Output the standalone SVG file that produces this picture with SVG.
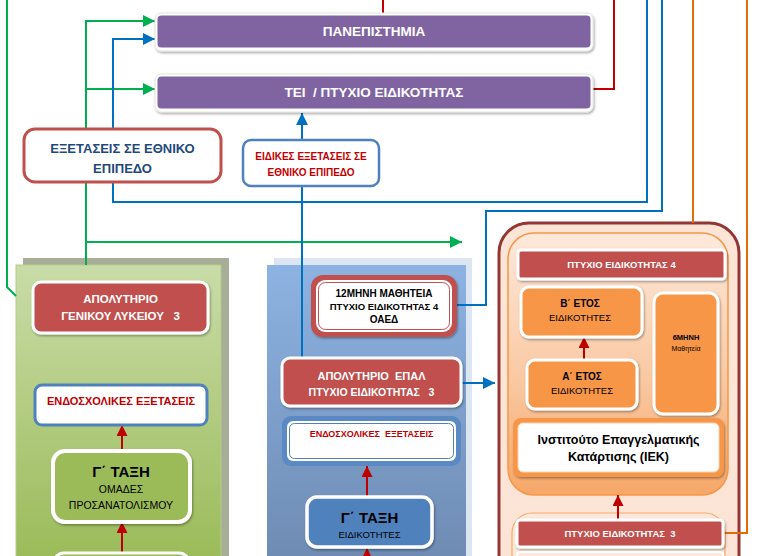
<svg xmlns="http://www.w3.org/2000/svg" width="759" height="556" viewBox="0 0 759 556">
<style>
text{font-family:"Liberation Sans",Arial,sans-serif;text-anchor:middle}
.b{font-weight:bold}
.w{fill:#fff}
.k{fill:#000}
.r{fill:#c00000}
.wb{stroke:#fff;stroke-width:3;filter:url(#sh)}
.red{fill:#c0504d}
.org{fill:#f79646}
.c{fill:none;stroke-width:2}
.cg{stroke:#00b050}
.cb{stroke:#0070c0}
.cr{stroke:#c00000}
.co{stroke:#e36c09}
</style>
<defs>
<filter id="sh" x="-10%" y="-10%" width="120%" height="130%"><feDropShadow dx="1" dy="1.5" stdDeviation="1" flood-color="#000" flood-opacity="0.35"/></filter>
<marker id="ag" markerUnits="userSpaceOnUse" viewBox="0 0 12 12" refX="12" refY="6" markerWidth="13" markerHeight="12" orient="auto"><path d="M0,0L12,6L0,12z" fill="#00b050"/></marker>
<marker id="ab" markerUnits="userSpaceOnUse" viewBox="0 0 12 12" refX="12" refY="6" markerWidth="13" markerHeight="12" orient="auto"><path d="M0,0L12,6L0,12z" fill="#0070c0"/></marker>
<marker id="ar" markerUnits="userSpaceOnUse" viewBox="0 0 12 12" refX="12" refY="6" markerWidth="12" markerHeight="11" orient="auto"><path d="M0,0L12,6L0,12z" fill="#c00000"/></marker>
<linearGradient id="gg" x1="0" y1="0" x2="0" y2="1"><stop offset="0" stop-color="#c9dca8"/><stop offset="1" stop-color="#9bbb59"/></linearGradient>
<linearGradient id="gb" x1="0" y1="0" x2="0" y2="1"><stop offset="0" stop-color="#8db3e2"/><stop offset="1" stop-color="#6e8bb3"/></linearGradient>
<linearGradient id="go" x1="0" y1="0" x2="0" y2="1"><stop offset="0" stop-color="#fde9dc"/><stop offset="0.55" stop-color="#f9c9a3"/><stop offset="1" stop-color="#f6a768"/></linearGradient>
</defs>
<rect width="759" height="556" fill="#fff"/>

<g id="panel-general">
<rect x="23" y="258" width="206" height="300" fill="#a7ad97"/>
<rect x="16" y="265" width="205" height="295" fill="url(#gg)" stroke="#b5cc88" stroke-width="1"/>
</g>
<g id="panel-epal">
<rect x="274" y="258" width="198" height="300" fill="#dce6f2"/>
<rect x="267" y="265" width="199" height="295" fill="url(#gb)"/>
</g>
<g id="panel-iek">
<rect x="499" y="223" width="240" height="370" rx="30" fill="#fce4d6" stroke="#943634" stroke-width="3"/>
<rect x="508" y="233" width="220" height="262" rx="26" fill="url(#go)" stroke="#f79646" stroke-width="1.5"/>
<rect x="512" y="513" width="213" height="70" rx="20" fill="#fde9dc" stroke="#f9a86a" stroke-width="1.2"/>
</g>

<g id="connectors">
<path class="c cg" d="M7,0V287L16,296"/>
<path class="c cg" d="M86,265V21H155" marker-end="url(#ag)"/>
<path class="c cg" d="M86,89H155" marker-end="url(#ag)"/>
<path class="c cg" d="M86,242H462" marker-end="url(#ag)"/>
<path class="c cb" d="M647,0V202H113V39H155" marker-end="url(#ab)"/>
<path class="c cb" d="M456,305H486V211H662V0"/>
<path class="c cb" d="M302,358V113" marker-end="url(#ab)"/>
<path class="c cb" d="M461,383H495" marker-end="url(#ab)"/>
<path class="c cr" d="M593,89H614V0"/>
<path class="c cr" d="M383,0V14"/>
<path class="c co" d="M693,0V223"/>
<path class="c co" d="M723,533H747V0"/>
<path class="c cr" d="M122,451V425" marker-end="url(#ar)"/>
<path class="c cr" d="M122,556V522" marker-end="url(#ar)"/>
<path class="c cr" d="M367,497V466" marker-end="url(#ar)"/>
<path class="c cr" d="M367,560V548" marker-end="url(#ar)"/>
<path class="c cr" d="M584,360V337" marker-end="url(#ar)"/>
<path class="c cr" d="M618,520V495" marker-end="url(#ar)"/>
</g>

<g id="node-univ">
<rect x="155" y="13" width="438" height="38" rx="6" fill="#fff" stroke="#e4e4e4" stroke-width="1" filter="url(#sh)"/>
<rect x="157.5" y="15.5" width="433" height="32" rx="4" fill="#8064a2"/>
<text x="374" y="36" class="b w" font-size="13.5">ΠΑΝΕΠΙΣΤΗΜΙΑ</text>
</g>
<g id="node-tei">
<rect x="155" y="74" width="438" height="38" rx="6" fill="#fff" stroke="#e4e4e4" stroke-width="1" filter="url(#sh)"/>
<rect x="157.5" y="76.5" width="433" height="32" rx="4" fill="#8064a2"/>
<text x="374" y="97" class="b w" font-size="13.5" xml:space="preserve">ΤΕΙ  / ΠΤΥΧΙΟ ΕΙΔΙΚΟΤΗΤΑΣ</text>
</g>
<g id="node-national-exams">
<rect x="24" y="129" width="197" height="53" rx="11" fill="#fff" stroke="#c0504d" stroke-width="3"/>
<text x="122.5" y="152.5" class="b" fill="#1f497d" font-size="13">ΕΞΕΤΑΣΕΙΣ ΣΕ ΕΘΝΙΚΟ</text>
<text x="122.5" y="172.5" class="b" fill="#1f497d" font-size="13">ΕΠΙΠΕΔΟ</text>
</g>
<g id="node-special-exams">
<rect x="243" y="140" width="136" height="46" rx="8" fill="#fff" stroke="#4f81bd" stroke-width="2.5"/>
<text x="311" y="160" class="b r" font-size="10">ΕΙΔΙΚΕΣ ΕΞΕΤΑΣΕΙΣ ΣΕ</text>
<text x="311" y="176" class="b r" font-size="10">ΕΘΝΙΚΟ ΕΠΙΠΕΔΟ</text>
</g>

<g id="node-apolytirio-gl">
<rect x="33" y="282" width="175" height="51" rx="8" class="red wb"/>
<text x="120.5" y="303" class="b w" font-size="11.5">ΑΠΟΛΥΤΗΡΙΟ</text>
<text x="120.5" y="320" class="b w" font-size="11.5" xml:space="preserve">ΓΕΝΙΚΟΥ ΛΥΚΕΙΟΥ   3</text>
</g>
<g id="node-endo-gl">
<rect x="35" y="385" width="172" height="40" rx="7" fill="#fff" stroke="#4f81bd" stroke-width="3"/>
<text x="121" y="405" class="b r" font-size="11">ΕΝΔΟΣΧΟΛΙΚΕΣ ΕΞΕΤΑΣΕΙΣ</text>
</g>
<g id="node-g-gl">
<rect x="53" y="451" width="137" height="71" rx="12" fill="#9bbb59" stroke="#fff" stroke-width="4" filter="url(#sh)"/>
<text x="121" y="477" class="b k" font-size="15">Γ΄ ΤΑΞΗ</text>
<text x="121" y="493" class="k" font-size="10.5">ΟΜΑΔΕΣ</text>
<text x="121" y="509" class="k" font-size="10.5">ΠΡΟΣΑΝΑΤΟΛΙΣΜΟΥ</text>
</g>
<g id="node-b-gl">
<rect x="54" y="553" width="135" height="40" rx="10" fill="#9bbb59" stroke="#fff" stroke-width="3"/>
</g>

<g id="node-mathiteia">
<rect x="311" y="275" width="146" height="62" rx="12" class="red" filter="url(#sh)"/>
<rect x="316" y="280" width="136" height="52" rx="9" fill="#fff"/>
<rect x="318.5" y="282.5" width="131" height="47" rx="7" fill="none" stroke="#c0504d" stroke-width="1"/>
<text x="384" y="297" class="b k" font-size="10">12ΜΗΝΗ ΜΑΘΗΤΕΙΑ</text>
<text x="384" y="310" class="b k" font-size="9.5">ΠΤΥΧΙΟ ΕΙΔΙΚΟΤΗΤΑΣ 4</text>
<text x="384" y="323" class="b k" font-size="10">ΟΑΕΔ</text>
</g>
<g id="node-apolytirio-epal">
<rect x="282" y="358" width="179" height="48" rx="8" class="red wb"/>
<text x="371.5" y="380" class="b w" font-size="11" xml:space="preserve">ΑΠΟΛΥΤΗΡΙΟ  ΕΠΑΛ</text>
<text x="371.5" y="396" class="b w" font-size="10.5" xml:space="preserve">ΠΤΥΧΙΟ ΕΙΔΙΚΟΤΗΤΑΣ   3</text>
</g>
<g id="node-endo-epal">
<rect x="282" y="416" width="179" height="50" rx="9" fill="#5a89c4"/>
<rect x="287" y="421" width="169" height="40" rx="6" fill="#fff"/>
<rect x="289.5" y="423.5" width="164" height="35" rx="5" fill="none" stroke="#4f81bd" stroke-width="1"/>
<text x="371.5" y="437" class="b r" font-size="9" xml:space="preserve">ΕΝΔΟΣΧΟΛΙΚΕΣ  ΕΞΕΤΑΣΕΙΣ</text>
</g>
<g id="node-g-epal">
<rect x="307" y="497" width="125" height="50" rx="10" fill="#4f81bd" stroke="#fff" stroke-width="3.5" filter="url(#sh)"/>
<text x="369.5" y="523" class="b k" font-size="15">Γ΄ ΤΑΞΗ</text>
<text x="369.5" y="538" class="k" font-size="9.5">ΕΙΔΙΚΟΤΗΤΕΣ</text>
</g>

<g id="node-ptyxio4">
<rect x="518" y="250" width="207" height="29" rx="3" class="red wb"/>
<text x="621.5" y="268" class="b w" font-size="9.5">ΠΤΥΧΙΟ ΕΙΔΙΚΟΤΗΤΑΣ 4</text>
</g>
<g id="node-b-etos">
<rect x="521" y="287" width="121" height="50" rx="8" class="org wb"/>
<text x="580" y="307" class="b k" font-size="10">Β΄ ΕΤΟΣ</text>
<text x="580" y="321" class="k" font-size="9.5">ΕΙΔΙΚΟΤΗΤΕΣ</text>
</g>
<g id="node-a-etos">
<rect x="527" y="360" width="110" height="49" rx="8" class="org wb"/>
<text x="582" y="380" class="b k" font-size="10">Α΄ ΕΤΟΣ</text>
<text x="582" y="394" class="k" font-size="9.5">ΕΙΔΙΚΟΤΗΤΕΣ</text>
</g>
<g id="node-6mini">
<rect x="654" y="293" width="64" height="121" rx="9" class="org wb"/>
<text x="686" y="340" class="b k" font-size="7.5">6ΜΗΝΗ</text>
<text x="686" y="351" class="k" font-size="7">Μαθητεία</text>
</g>
<g id="node-iek">
<rect x="513" y="418" width="211" height="59" rx="8" class="org" filter="url(#sh)"/>
<rect x="518" y="423" width="201" height="49" rx="5" fill="#fff" stroke="#fbd3b4" stroke-width="1"/>
<text x="618.5" y="444" class="b k" font-size="12.5">Ινστιτούτο Επαγγελματικής</text>
<text x="618.5" y="461" class="b k" font-size="12.5">Κατάρτισης (ΙΕΚ)</text>
</g>
<g id="node-ptyxio3">
<rect x="517" y="520" width="206" height="27" rx="3" class="red wb"/>
<text x="620" y="537" class="b w" font-size="9.5" xml:space="preserve">ΠΤΥΧΙΟ ΕΙΔΙΚΟΤΗΤΑΣ  3</text>
</g>
<g id="node-iek-bottom">
<rect x="517" y="552" width="206" height="30" rx="3" fill="#fde9dc" stroke="#fff" stroke-width="2"/>
</g>
</svg>
